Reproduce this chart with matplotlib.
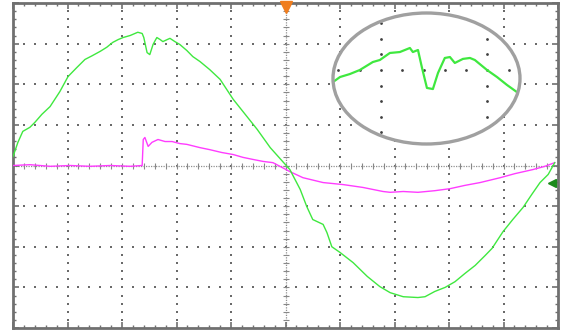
import numpy as np
import matplotlib
matplotlib.use("Agg")
import matplotlib.pyplot as plt
from matplotlib.patches import Ellipse

# ---- data (screen divisions: x 0..10, y -4..4) ----
green_x = [0.00, 0.09, 0.18, 0.31, 0.40, 0.53, 0.68, 0.86, 1.01, 1.17, 1.32, 1.45,
           1.60, 1.72, 1.83, 1.93, 2.02, 2.15, 2.29, 2.37, 2.40, 2.46, 2.51, 2.57, 2.61, 2.64,
           2.70, 2.75, 2.83, 2.88, 2.97, 3.06, 3.19, 3.30, 3.43, 3.61, 3.80, 4.04, 4.26, 4.48,
           4.72, 5.08, 5.27, 5.39, 5.50, 5.69, 5.76, 5.85, 6.00, 6.24, 6.50, 6.73, 6.92, 7.16,
           7.43, 7.56, 7.74, 7.93, 8.11, 8.29, 8.48, 8.66, 8.79, 8.99, 9.17, 9.36, 9.52, 9.67,
           9.82, 9.94]
green_y = [0.22, 0.57, 0.84, 0.94, 1.06, 1.26, 1.45, 1.82, 2.19, 2.41, 2.61, 2.70,
           2.81, 2.91, 3.03, 3.10, 3.15, 3.20, 3.28, 3.25, 3.15, 2.78, 2.73, 2.98, 3.08, 3.15,
           3.10, 3.05, 3.10, 3.13, 3.05, 2.98, 2.83, 2.68, 2.56, 2.36, 2.12, 1.63, 1.26, 0.89,
           0.44, -0.10, -0.59, -1.01, -1.33, -1.45, -1.65, -2.00, -2.14, -2.39, -2.73, -2.98,
           -3.13, -3.23, -3.25, -3.23, -3.10, -3.00, -2.86, -2.66, -2.46, -2.22, -2.04, -1.63,
           -1.33, -1.03, -0.71, -0.42, -0.22, 0.07]

mag_x = [0.00, 0.31, 0.68, 1.05, 1.41, 1.78, 2.15, 2.37, 2.39, 2.42, 2.48, 2.55, 2.66, 2.79,
         2.92, 3.06, 3.19, 3.43, 3.61, 3.83, 4.04, 4.22, 4.40, 4.59, 4.77, 5.08, 5.32, 5.69,
         6.06, 6.42, 6.79, 6.92, 7.16, 7.43, 7.74, 8.02, 8.29, 8.57, 8.94, 9.21, 9.54, 9.76, 9.94]
mag_y = [0.00, 0.02, -0.02, 0.00, -0.02, 0.00, -0.02, 0.00, 0.64, 0.69, 0.47, 0.57, 0.64, 0.59,
         0.59, 0.54, 0.52, 0.44, 0.39, 0.32, 0.27, 0.20, 0.15, 0.10, 0.07, -0.15, -0.30, -0.42,
         -0.47, -0.54, -0.64, -0.66, -0.64, -0.66, -0.62, -0.57, -0.49, -0.42, -0.30, -0.20,
         -0.10, -0.02, 0.07]

# zoomed inset trace (inset mini-division units)
inset_x = [-2.25, -1.92, -1.46, -0.99, -0.38, -0.05, 0.42, 0.89, 1.36, 1.50, 1.74, 1.92, 2.16,
           2.44, 2.68, 3.00, 3.24, 3.47, 3.85, 4.18, 4.41, 4.98, 5.45, 5.92, 6.38]
inset_y = [-0.77, -0.45, -0.26, 0.00, 0.51, 0.64, 1.09, 1.15, 1.41, 1.15, 1.28, 0.19, -1.15,
           -1.22, -0.19, 0.77, 0.83, 0.45, 0.71, 0.77, 0.64, 0.00, -0.45, -0.96, -1.41]

GREEN = '#3fe83f'
MAGENTA = '#ff3cff'
GRID = '#6a6a6a'
BORDER = '#707070'

W, H = 561, 332
fig = plt.figure(figsize=(W / 100, H / 100), dpi=100)
fig.patch.set_facecolor('white')
ax = fig.add_axes([13 / W, 4 / H, 545 / W, 325 / H])
ax.set_xlim(0, 10)
ax.set_ylim(-4, 4)
ax.set_facecolor('white')
for s in ax.spines.values():
    s.set_color(BORDER)
    s.set_linewidth(2.0)
ax.set_xticks(np.arange(0, 11, 1))
ax.set_yticks(np.arange(-4, 5, 1))
ax.set_xticks(np.arange(0, 10.01, 0.2), minor=True)
ax.set_yticks(np.arange(-4, 4.01, 0.2), minor=True)
ax.tick_params(which='both', direction='in', top=True, right=True, labelbottom=False,
               labelleft=False, color=BORDER)
ax.tick_params(which='major', length=4, width=1.2)
ax.tick_params(which='minor', length=2.5, width=1.0)

# dotted graticule
gx, gy = [], []
for xv in range(1, 10):
    if xv == 5:
        continue
    for yv in np.arange(-4, 4.01, 0.2):
        gx.append(xv); gy.append(yv)
for yv in range(-3, 4):
    if yv == 0:
        continue
    for xv in np.arange(0, 10.01, 0.2):
        gx.append(xv); gy.append(yv)
ax.scatter(gx, gy, s=1.0, marker='s', color=GRID, linewidths=0, zorder=1)

# center crosshair
ax.plot([0, 10], [0, 0], color='#909090', lw=0.9, ls=(0, (1, 1)), zorder=1)
ax.plot([5, 5], [-4, 4], color='#909090', lw=0.9, ls=(0, (1, 1)), zorder=1)
cx = np.arange(0, 10.01, 0.2)
cy = np.arange(-4, 4.01, 0.2)
ax.plot(cx, np.zeros_like(cx), ls='none', marker='|', ms=5, mew=0.8, color='#888888', zorder=1)
ax.plot(np.full_like(cy, 5), cy, ls='none', marker='_', ms=5, mew=0.8, color='#888888', zorder=1)

# traces
ax.plot(mag_x, mag_y, color=MAGENTA, lw=1.0, zorder=3)
ax.plot(green_x, green_y, color=GREEN, lw=1.0, zorder=4)

# markers
ax.plot([5], [3.9], marker='v', color='#f07d1e', ms=9, clip_on=False, zorder=6)
ax.plot([9.89], [-0.42], marker='<', color='#1a8a1a', ms=6, clip_on=False, zorder=6)

# inset
iax = fig.add_axes([333 / W, (H - 144) / H, 187 / W, 131 / H])
iax.set_xlim(-2.25, 6.53)
iax.set_ylim(-4.74, 3.65)
iax.axis('off')
ell = Ellipse((0.5, 0.5), 1.0, 1.0, transform=iax.transAxes, facecolor='white',
              edgecolor='none', zorder=0)
iax.add_patch(ell)
ell_edge = Ellipse((0.5, 0.5), 1.0, 1.0, transform=iax.transAxes, facecolor='none',
                   edgecolor='#a0a0a0', lw=2.4, zorder=5, clip_on=False)
iax.add_patch(ell_edge)
dx, dy = [], []
for xv in range(-2, 7):
    dx.append(xv); dy.append(0)
for xv in (0, 5):
    for yv in (3, 2, 1, -1, -2, -3, -4):
        dx.append(xv); dy.append(yv)
sc = iax.scatter(dx, dy, s=4, color='#404040', linewidths=0, zorder=2)
sc.set_clip_path(ell)
ln, = iax.plot(inset_x, inset_y, color=GREEN, lw=1.6, zorder=3)
ln.set_clip_path(ell)

fig.savefig('out.png', dpi=100, facecolor='white')
